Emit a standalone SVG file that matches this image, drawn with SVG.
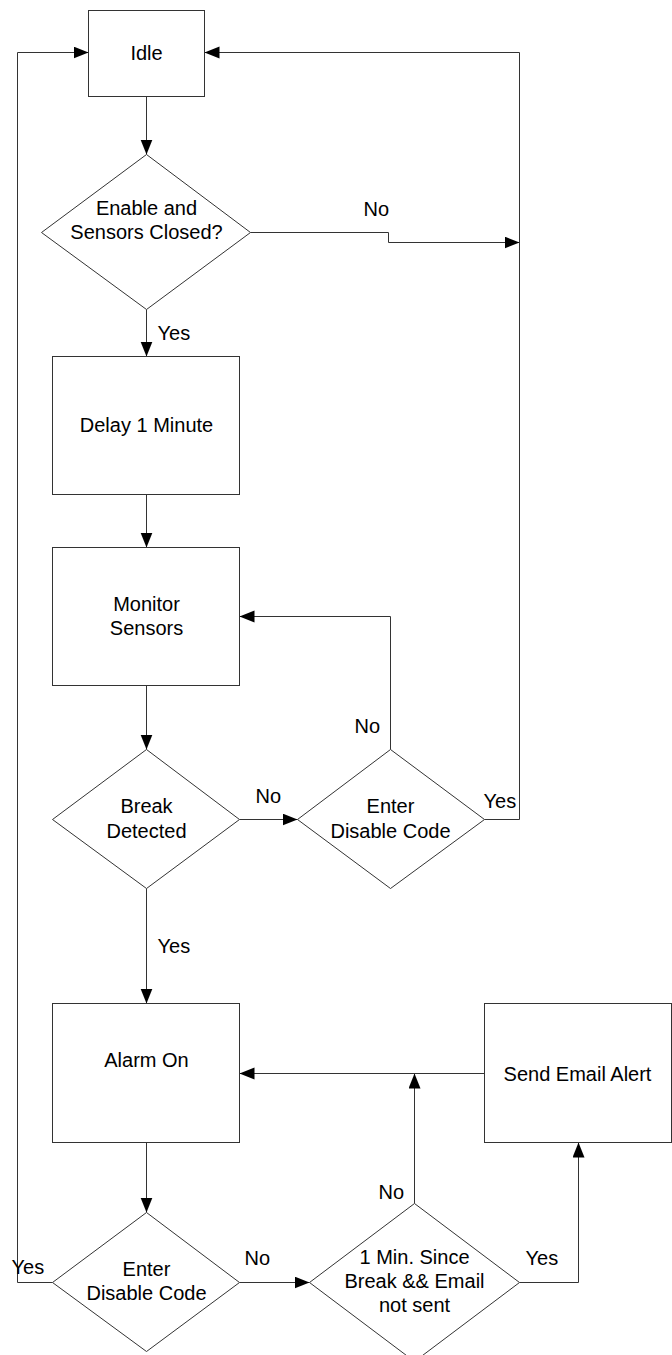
<svg xmlns="http://www.w3.org/2000/svg" width="672" height="1355" viewBox="0 0 672 1355">
<defs>
<style>
.shape{fill:#fff;stroke:#333;stroke-width:1}
.conn{fill:none;stroke:#333;stroke-width:1}
text{font-family:"Liberation Sans",Arial,sans-serif;font-size:20px;fill:#000}
.c{text-anchor:middle}
</style>
<marker id="arr" markerUnits="userSpaceOnUse" markerWidth="16" markerHeight="13" refX="15" refY="6" orient="auto">
<path d="M0,0 L15,6 L0,12 z" fill="#000"/>
</marker>
</defs>
<rect width="672" height="1355" fill="#fff"/>
<g transform="translate(0.5,0.5)">
<g id="connectors">
<path class="conn" d="M146,96 V154" marker-end="url(#arr)"/>
<path class="conn" d="M250,232 H388 V242 H519" marker-end="url(#arr)"/>
<path class="conn" d="M146,309 V356" marker-end="url(#arr)"/>
<path class="conn" d="M146,494 V547" marker-end="url(#arr)"/>
<path class="conn" d="M146,685 V749" marker-end="url(#arr)"/>
<path class="conn" d="M239,819 H297" marker-end="url(#arr)"/>
<path class="conn" d="M390,749 V616 H239" marker-end="url(#arr)"/>
<path class="conn" d="M484,819 H519 V52 H204" marker-end="url(#arr)"/>
<path class="conn" d="M146,888 V1003" marker-end="url(#arr)"/>
<path class="conn" d="M146,1142 V1212" marker-end="url(#arr)"/>
<path class="conn" d="M52,1282 H17 V52 H88" marker-end="url(#arr)"/>
<path class="conn" d="M239,1282 H309" marker-end="url(#arr)"/>
<path class="conn" d="M414,1203 V1073" marker-end="url(#arr)"/>
<path class="conn" d="M519,1282 H578 V1142" marker-end="url(#arr)"/>
<path class="conn" d="M484,1073 H239" marker-end="url(#arr)"/>
<text x="363" y="215">No</text>
<text x="157" y="339">Yes</text>
<text x="354" y="732">No</text>
<text x="255" y="802">No</text>
<text x="483" y="807">Yes</text>
<text x="157" y="952">Yes</text>
<text x="11" y="1273">Yes</text>
<text x="244" y="1264">No</text>
<text x="378" y="1198">No</text>
<text x="525" y="1264">Yes</text>
</g>
<g id="idle">
<rect class="shape" x="88" y="10" width="116" height="86"/>
<text class="c" x="146" y="59">Idle</text>
</g>
<g id="check-enable">
<polygon class="shape" points="146,154 250,232 146,309 41,232"/>
<text class="c" x="146" y="214">Enable and</text>
<text class="c" x="146" y="238">Sensors Closed?</text>
</g>
<g id="delay">
<rect class="shape" x="52" y="356" width="187" height="138"/>
<text class="c" x="146" y="431">Delay 1 Minute</text>
</g>
<g id="monitor">
<rect class="shape" x="52" y="547" width="187" height="138"/>
<text class="c" x="146" y="610">Monitor</text>
<text class="c" x="146" y="634">Sensors</text>
</g>
<g id="break">
<polygon class="shape" points="146,749 239,819 146,888 52,819"/>
<text class="c" x="146" y="812">Break</text>
<text class="c" x="146" y="837">Detected</text>
</g>
<g id="enter-code-1">
<polygon class="shape" points="390,749 484,819 390,888 297,819"/>
<text class="c" x="390" y="812">Enter</text>
<text class="c" x="390" y="837">Disable Code</text>
</g>
<g id="alarm">
<rect class="shape" x="52" y="1003" width="187" height="139"/>
<text class="c" x="146" y="1066">Alarm On</text>
</g>
<g id="email">
<rect class="shape" x="484" y="1003" width="187" height="139"/>
<text class="c" x="577" y="1080">Send Email Alert</text>
</g>
<g id="enter-code-2">
<polygon class="shape" points="146,1212 239,1282 146,1351 52,1282"/>
<text class="c" x="146" y="1275">Enter</text>
<text class="c" x="146" y="1299">Disable Code</text>
</g>
<g id="one-min">
<polygon class="shape" points="414,1203 519,1282 414,1361 309,1282"/>
<text class="c" x="414" y="1263">1 Min. Since</text>
<text class="c" x="414" y="1287">Break &amp;&amp; Email</text>
<text class="c" x="414" y="1311">not sent</text>
</g>
</g>
</svg>
